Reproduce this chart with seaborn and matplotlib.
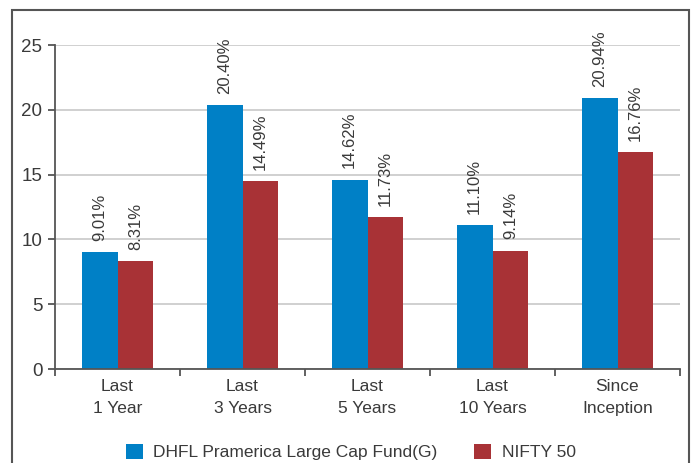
import matplotlib
matplotlib.use("Agg")
import matplotlib.pyplot as plt
import seaborn as sns
import pandas as pd
from matplotlib.patches import Rectangle
from matplotlib.ticker import FixedLocator

periods = ["Last\n1 Year", "Last\n3 Years", "Last\n5 Years", "Last\n10 Years", "Since\nInception"]
fund_name = "DHFL Pramerica Large Cap Fund(G)"
bench_name = "NIFTY 50"
fund_returns = [9.01, 20.40, 14.62, 11.10, 20.94]
bench_returns = [8.31, 14.49, 11.73, 9.14, 16.76]
y_ticks = [0, 5, 10, 15, 20, 25]

sns.set_theme(style="white")
plt.rcParams["font.family"] = ["Liberation Sans", "DejaVu Sans"]

text_color = "#3a3a3a"
palette = {fund_name: "#0080c6", bench_name: "#a83236"}

df = pd.DataFrame({
    "period": periods * 2,
    "series": [fund_name] * len(periods) + [bench_name] * len(periods),
    "value": fund_returns + bench_returns,
})

fig = plt.figure(figsize=(6.93, 4.63), dpi=100)
ax = fig.add_axes([55 / 693, 1 - 369 / 463, 625 / 693, 324 / 463])

sns.barplot(data=df, x="period", y="value", hue="series", palette=palette,
            width=0.57, saturation=1, linewidth=0, ax=ax, legend=True)

ax.set_xlim(-0.5, len(periods) - 0.5)
ax.set_ylim(0, 25)
ax.set_yticks(y_ticks)
ax.yaxis.grid(True, color="#c8c8c8", linewidth=1.2)
ax.set_axisbelow(True)
ax.set_xlabel("")
ax.set_ylabel("")

for side in ("top", "right"):
    ax.spines[side].set_visible(False)
for side in ("left", "bottom"):
    ax.spines[side].set_color("#555555")
    ax.spines[side].set_linewidth(1.3)

ax.xaxis.set_minor_locator(FixedLocator([i - 0.5 for i in range(len(periods) + 1)]))
ax.tick_params(axis="x", which="major", length=0, pad=7, labelsize=12.5, labelcolor=text_color)
ax.tick_params(axis="x", which="minor", length=5, width=1.3, color="#555555", direction="out", bottom=True)
ax.tick_params(axis="y", length=5, width=1.3, color="#555555", direction="out", left=True,
               labelsize=13.5, labelcolor=text_color, pad=4)
for lbl in ax.get_xticklabels():
    lbl.set_linespacing(1.6)

for container in ax.containers:
    ax.bar_label(container, labels=[f"{v:.2f}%" for v in container.datavalues],
                 rotation=90, padding=8, fontsize=12, color=text_color)

leg = ax.get_legend()
handles, labels = ax.get_legend_handles_labels()
leg.remove()
fig.legend(handles, labels, loc="center", bbox_to_anchor=(0.506, 1 - 452 / 463), ncol=2,
           frameon=False, fontsize=12.5, handlelength=1.0, handleheight=1.0,
           handletextpad=0.6, columnspacing=2.1, labelcolor=text_color)

fig.patches.append(Rectangle((12 / 693, -0.05), 677 / 693, 1.05 - 10 / 463,
                             transform=fig.transFigure, fill=False,
                             edgecolor="#555555", linewidth=1.5))

fig.savefig("out.png", dpi=100)
